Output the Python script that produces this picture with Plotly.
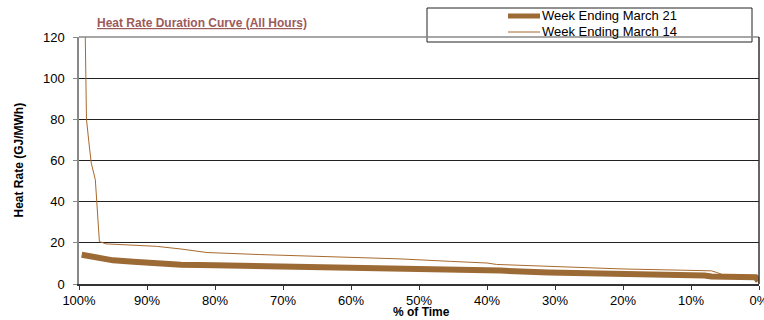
import plotly.graph_objects as go

# ---- data ----
pct_mar21 = [99.6, 98, 96.9, 95, 92, 89, 88, 85, 80, 78, 70, 60, 50, 45, 38, 31, 25, 20, 15, 11, 8, 7, 3, 0.5, 0.1]
hr_mar21 = [14.2, 13.2, 12.2, 11.5, 10.8, 10.3, 9.5, 9.3, 9.1, 9.0, 8.6, 8.0, 7.3, 6.8, 6.5, 5.6, 5.3, 5.0, 4.8, 4.5, 4.1, 3.6, 3.4, 3.3, 1.5]

pct_mar14 = [99.1, 98.9, 98.5, 98.2, 97.6, 97.0, 96, 92, 88.6, 85, 81.2, 73.4, 65, 60, 52.8, 45.4, 40, 38.6, 32, 25.9, 20, 11.2, 7, 6.2, 5.3, 2, 0.3, 0]
hr_mar14 = [125, 80, 67.5, 58.8, 50.7, 20.6, 19.5, 19, 18.3, 17, 15.3, 14.3, 13.5, 12.8, 12.2, 11, 10.2, 9.5, 8.7, 7.8, 7.3, 6.7, 6.4, 5.6, 4.5, 4.0, 3.7, 0]

series_names = ["Week Ending March 21", "Week Ending March 14"]
x_ticks = [100, 90, 80, 70, 60, 50, 40, 30, 20, 10, 0]
x_tick_labels = ["100%", "90%", "80%", "70%", "60%", "50%", "40%", "30%", "20%", "10%", "0%"]
y_ticks = [0, 20, 40, 60, 80, 100, 120]

FONT = "Liberation Sans, Arial, sans-serif"
W, H = 764, 320
L, R, T, B = 79, 5, 37, 36
PW, PH = W - L - R, H - T - B

def px(xp):
    return (xp - L) / PW

def py(yp):
    return (H - B - yp) / PH

COL_THICK = "#9C6A35"
COL_THIN = "#A8692C"

fig = go.Figure()
fig.add_trace(go.Scatter(x=pct_mar21, y=hr_mar21, mode="lines", name=series_names[0],
                         line=dict(color=COL_THICK, width=6)))
fig.add_trace(go.Scatter(x=pct_mar14, y=hr_mar14, mode="lines", name=series_names[1],
                         line=dict(color=COL_THIN, width=1)))

legend_shapes = [
    dict(type="rect", xref="paper", yref="paper", x0=px(427), x1=px(752), y0=py(42), y1=py(8),
         line=dict(color="#222", width=1), fillcolor="white", layer="below"),
    dict(type="line", xref="paper", yref="paper", x0=px(508), x1=px(540), y0=py(16), y1=py(16),
         line=dict(color=COL_THICK, width=5)),
    dict(type="line", xref="paper", yref="paper", x0=px(508), x1=px(540), y0=py(32), y1=py(32),
         line=dict(color=COL_THIN, width=1)),
]
legend_texts = [
    dict(text=series_names[0], xref="paper", yref="paper", x=px(540), y=py(16), xanchor="left",
         yanchor="middle", showarrow=False, font=dict(size=13)),
    dict(text=series_names[1], xref="paper", yref="paper", x=px(540), y=py(32), xanchor="left",
         yanchor="middle", showarrow=False, font=dict(size=13)),
]

fig.update_layout(
    width=W, height=H,
    margin=dict(l=L, r=R, t=T, b=B, autoexpand=False),
    paper_bgcolor="white", plot_bgcolor="white",
    font=dict(family=FONT, size=13, color="black"),
    showlegend=False,
    xaxis=dict(range=[100, 0], tickvals=x_ticks, ticktext=x_tick_labels, showgrid=False,
               zeroline=False, showline=True, linecolor="#333", linewidth=1.5,
               ticks="outside", ticklen=4, tickcolor="#333", tickfont=dict(size=13),
               ticklabeloverflow="allow"),
    yaxis=dict(range=[0, 120], tickvals=y_ticks, showgrid=True, gridcolor="#222", gridwidth=1,
               zeroline=False, showline=True, linecolor="#888", linewidth=1.5,
               ticks="outside", ticklen=4, tickcolor="#888", tickfont=dict(size=13),
               ticklabelstandoff=6, ticklabeloverflow="allow"),
    shapes=[
        dict(type="line", xref="paper", yref="paper", x0=0, x1=1, y0=1, y1=1, line=dict(color="#888", width=1.5)),
        dict(type="line", xref="paper", yref="paper", x0=1, x1=1, y0=0, y1=1, line=dict(color="#333", width=1.5)),
    ] + legend_shapes,
    annotations=[
        dict(text="<b><u>Heat Rate Duration Curve (All Hours)</u></b>", xref="paper", yref="paper",
             x=px(95), y=py(23), xanchor="left", yanchor="middle", showarrow=False,
             font=dict(size=12, color="#9C5A5A")),
        dict(text="<b>Heat Rate (GJ/MWh)</b>", xref="paper", yref="paper", x=px(18),
             y=0.5, xanchor="center", yanchor="middle", textangle=-90, showarrow=False,
             font=dict(size=12)),
        dict(text="<b>% of Time</b>", xref="paper", yref="paper", x=px(421),
             y=py(312), xanchor="center", yanchor="middle", showarrow=False,
             font=dict(size=12)),
    ] + legend_texts,
)

fig.write_html("out.html", config={"displayModeBar": False},
               post_script="document.body.style.margin='0';document.body.style.padding='0';document.body.style.overflow='hidden';")
